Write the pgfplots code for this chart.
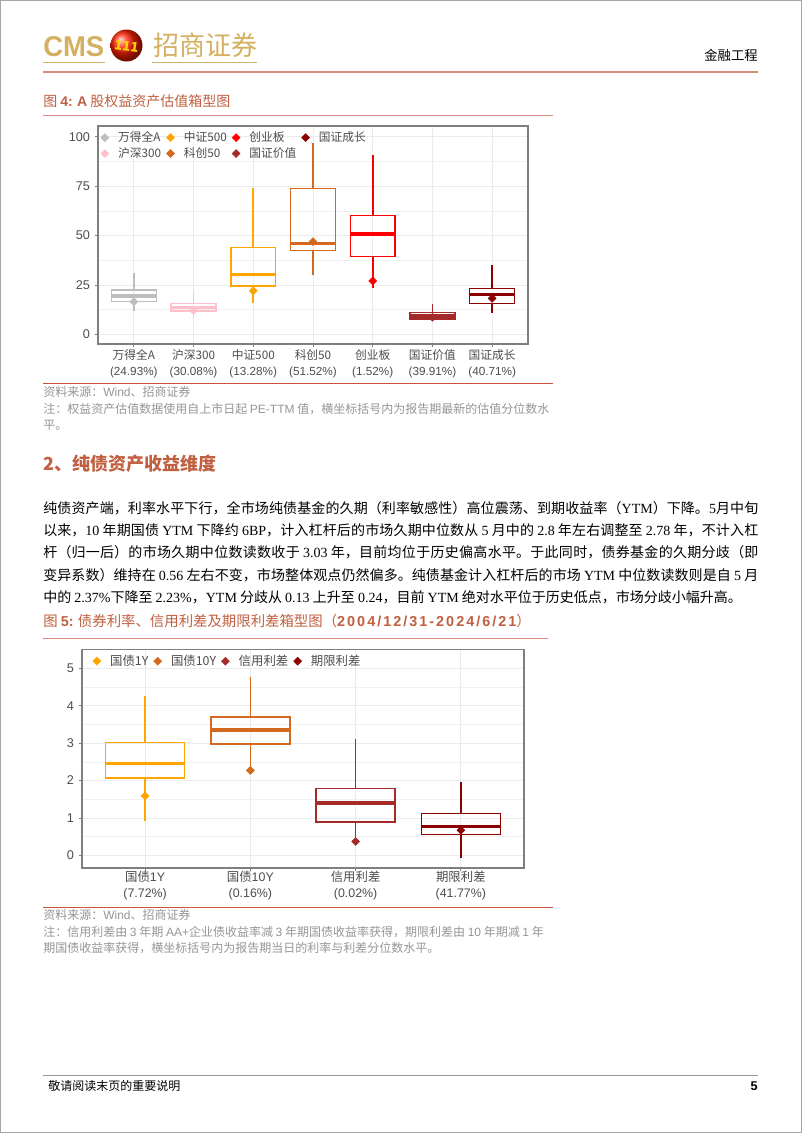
\documentclass[border=0pt]{standalone}
\usepackage{pgfplots}
\pgfplotsset{compat=1.18}
\usepgfplotslibrary{statistics}
\usepackage{fontspec}
\setmainfont{Noto Sans CJK SC}
\newfontfamily\arial{Liberation Sans}
\newfontfamily\arialsp[LetterSpace=14]{Liberation Sans}
\newfontfamily\tnr{Liberation Serif}
\XeTeXlinebreaklocale "zh"
\XeTeXlinebreakskip = 0pt plus 3pt
\definecolor{cmsgold}{RGB}{212,176,96}
\definecolor{ttl}{RGB}{192,96,64}
\definecolor{salmon}{RGB}{214,140,120}
\definecolor{redline}{RGB}{204,80,60}
\definecolor{notegray}{RGB}{150,150,150}
\definecolor{cgray}{RGB}{190,190,190}
\definecolor{cpink}{RGB}{255,192,203}
\definecolor{corange}{RGB}{255,165,0}
\definecolor{cchoc}{RGB}{210,105,30}
\definecolor{cred}{RGB}{255,0,0}
\definecolor{cbrown}{RGB}{165,42,42}
\definecolor{cdark}{RGB}{139,0,0}
\definecolor{axgray}{RGB}{127,127,127}
\definecolor{tickgray}{RGB}{77,77,77}
\definecolor{gridgray}{RGB}{235,235,235}
\pgfplotsset{
  boxplot/every median/.style={line width=2.4pt},
  boxplot/every box/.style={line width=1.05pt},
  boxplot/every whisker/.style={line width=1.2pt},
  bxstyle/.style={forget plot, line width=1.05pt},
  mnstyle/.style={forget plot, only marks, mark=square*, mark size=2.1pt, mark options={rotate=45}},
  lgstyle/.style={only marks, mark=square*, mark size=2.1pt, mark options={rotate=45}},
  mybox/.style={
    scale only axis,
    boxplot/draw direction=y,
    axis line style={axgray, line width=0.8pt},
    tick align=outside, xtick pos=left, ytick pos=left,
    major tick length=2.5pt, minor tick length=0pt,
    tick style={axgray, line width=0.6pt},
    grid=both, major grid style={gridgray, line width=0.6pt},
    minor grid style={gridgray!70, line width=0.4pt},
    minor y tick num=1, minor x tick num=0,
    yticklabel style={font=\arial\fontsize{9.5}{10}\selectfont, text=tickgray},
    legend style={draw=none, fill=none, text=tickgray,
      /tikz/every odd column/.append style={column sep=5pt},
      /tikz/every even column/.append style={column sep=2pt}},
    legend cell align=left,
  }
}
\begin{document}
\begin{tikzpicture}
\begin{scope}[x=0.75pt,y=-0.75pt]
\useasboundingbox (0,0) rectangle (802,1133);
\fill[white] (0,0) rectangle (802,1133);
\draw[gray!70, line width=0.8pt] (0.5,0.5) rectangle (801.5,1132.5);
% header
\node[anchor=south west, inner sep=0] at (43,57) {\resizebox{45.75pt}{15pt}{\color{cmsgold}\arial\bfseries CMS}};
\shade[ball color=red!75!orange] (126.5,45.5) circle (16);
\node[inner sep=0, rotate=-8] at (126.5,46) {\color{yellow!70!orange}\bfseries\itshape\fontsize{10}{10}\selectfont 111};
\node[anchor=south west, inner sep=0] at (153,58) {\resizebox{78pt}{17pt}{\color{cmsgold}招商证券}};
\draw[cmsgold, line width=1.2pt] (43,62.5) -- (105,62.5);
\draw[cmsgold, line width=1.2pt] (152,62.5) -- (257,62.5);
\node[anchor=east, inner sep=0, font=\fontsize{10}{12}\selectfont] at (758,55) {金融工程};
\draw[salmon, line width=0.9pt] (43,72) -- (758,72);
% figure 4 title
\node[anchor=west, inner sep=0, text=ttl, font=\fontsize{10.5}{12}\selectfont] at (43,101) {图 {\arial\bfseries 4:} {\arial\bfseries A} 股权益资产估值箱型图};
\draw[salmon, line width=0.9pt] (43,115.5) -- (553,115.5);
\draw[redline, line width=0.9pt] (43,383.5) -- (553,383.5);
\node[anchor=west, inner sep=0, text=notegray, font=\fontsize{9}{10}\selectfont] at (43,392) {资料来源：{\arial Wind}、招商证券};
\node[anchor=west, inner sep=0, text=notegray, font=\fontsize{9}{10}\selectfont] at (43,409) {注：权益资产估值数据使用自上市日起 {\arial PE-TTM} 值，横坐标括号内为报告期最新的估值分位数水};
\node[anchor=west, inner sep=0, text=notegray, font=\fontsize{9}{10}\selectfont] at (43,425) {平。};
% section heading
\node[anchor=west, inner sep=0, text=ttl, font=\fontsize{13.5}{15}\selectfont\bfseries] at (43,464) {2、纯债资产收益维度};
% paragraph
\node[anchor=base west, inner sep=0, text width=536.25pt, align=justify, font=\fontsize{10.5}{16.8}\selectfont] at (43,513) {\tolerance=10000
纯债资产端，利率水平下行，全市场纯债基金的久期（利率敏感性）高位震荡、到期收益率（{\tnr YTM}）下降。{\tnr 5}月中旬\linebreak
以来，{\tnr 10} 年期国债 {\tnr YTM} 下降约 {\tnr 6BP}，计入杠杆后的市场久期中位数从 {\tnr 5} 月中的 {\tnr 2.8} 年左右调整至 {\tnr 2.78} 年，不计入杠\linebreak
杆（归一后）的市场久期中位数读数收于 {\tnr 3.03} 年，目前均位于历史偏高水平。于此同时，债券基金的久期分歧（即\linebreak
变异系数）维持在 {\tnr 0.56} 左右不变，市场整体观点仍然偏多。纯债基金计入杠杆后的市场 {\tnr YTM} 中位数读数则是自 {\tnr 5} 月\linebreak
中的 {\tnr 2.37\%}下降至 {\tnr 2.23\%}，{\tnr YTM} 分歧从 {\tnr 0.13} 上升至 {\tnr 0.24}，目前 {\tnr YTM} 绝对水平位于历史低点，市场分歧小幅升高。\par};
% figure 5 title
\node[anchor=west, inner sep=0, text=ttl, font=\fontsize{10.8}{12}\selectfont] at (43,621) {图 {\arial\bfseries 5:} 债券利率、信用利差及期限利差箱型图（{\arialsp\bfseries 2004/12/31-2024/6/21}）};
\draw[salmon, line width=0.9pt] (43,638.5) -- (548,638.5);
\draw[redline, line width=0.9pt] (43,907.5) -- (553,907.5);
\node[anchor=west, inner sep=0, text=notegray, font=\fontsize{9}{10}\selectfont] at (43,915) {资料来源：{\arial Wind}、招商证券};
\node[anchor=west, inner sep=0, text=notegray, font=\fontsize{9}{10}\selectfont] at (43,932) {注：信用利差由 {\arial 3} 年期 {\arial AA+}企业债收益率减 {\arial 3} 年期国债收益率获得，期限利差由 {\arial 10} 年期减 {\arial 1} 年};
\node[anchor=west, inner sep=0, text=notegray, font=\fontsize{9}{10}\selectfont] at (43,948) {期国债收益率获得，横坐标括号内为报告期当日的利率与利差分位数水平。};
% footer
\draw[gray!80, line width=0.8pt] (43,1075.5) -- (758,1075.5);
\node[anchor=west, inner sep=0, font=\fontsize{9}{10}\selectfont] at (48,1086) {敬请阅读末页的重要说明};
\node[anchor=east, inner sep=0, font=\fontsize{9.5}{10}\selectfont\arial\bfseries] at (758,1086) {5};
\end{scope}
% chart 1
\begin{axis}[mybox, at={(73.5pt,-258pt)}, anchor=south west, width=322.5pt, height=163.5pt,
  xmin=0.4, xmax=7.6, ymin=-4.9, ymax=105.4,
  ytick={0,25,50,75,100}, yticklabels={0,25,50,75,100},
  xtick={1,2,3,4,5,6,7},
  xticklabel style={font=\fontsize{8.8}{12}\selectfont, align=center, text=tickgray, yshift=2pt},
  xticklabels={{万得全A\\{\arial(24.93\%)}},{沪深300\\{\arial(30.08\%)}},{中证500\\{\arial(13.28\%)}},{科创50\\{\arial(51.52\%)}},{创业板\\{\arial(1.52\%)}},{国证价值\\{\arial(39.91\%)}},{国证成长\\{\arial(40.71\%)}}},
  legend columns=4,
  legend style={font=\fontsize{8.8}{10}\selectfont, at={(-0.003,1.0)}, anchor=north west, row sep=-1pt}]
\addlegendimage{lgstyle, cgray}\addlegendentry{万得全A}
\addlegendimage{lgstyle, corange}\addlegendentry{中证500}
\addlegendimage{lgstyle, cred}\addlegendentry{创业板}
\addlegendimage{lgstyle, cdark}\addlegendentry{国证成长}
\addlegendimage{lgstyle, cpink}\addlegendentry{沪深300}
\addlegendimage{lgstyle, cchoc}\addlegendentry{科创50}
\addlegendimage{lgstyle, cbrown}\addlegendentry{国证价值}
\addplot[bxstyle, cgray, boxplot prepared={draw position=1, lower whisker=12, lower quartile=16.5, median=19.4, upper quartile=22.4, upper whisker=31.2, box extend=0.75, whisker extend=0}] coordinates {};
\addplot[bxstyle, cpink, boxplot prepared={draw position=2, lower whisker=8.1, lower quartile=11.8, median=13.5, upper quartile=15.7, upper whisker=21.6, box extend=0.75, whisker extend=0}] coordinates {};
\addplot[bxstyle, corange, boxplot prepared={draw position=3, lower whisker=16, lower quartile=24.5, median=30.4, upper quartile=44, upper whisker=73.9, box extend=0.75, whisker extend=0}] coordinates {};
\addplot[bxstyle, cchoc, boxplot prepared={draw position=4, lower whisker=30, lower quartile=42.3, median=46, upper quartile=73.7, upper whisker=96.6, box extend=0.75, whisker extend=0}] coordinates {};
\addplot[bxstyle, cred, boxplot prepared={draw position=5, lower whisker=23.3, lower quartile=39.3, median=50.8, upper quartile=60, upper whisker=90.7, box extend=0.75, whisker extend=0}] coordinates {};
\addplot[bxstyle, cbrown, boxplot prepared={draw position=6, lower whisker=6.6, lower quartile=7.8, median=9.3, upper quartile=11, upper whisker=15.3, box extend=0.75, whisker extend=0}] coordinates {};
\addplot[bxstyle, cdark, boxplot prepared={draw position=7, lower whisker=10.6, lower quartile=15.7, median=20.2, upper quartile=23.3, upper whisker=35, box extend=0.75, whisker extend=0}] coordinates {};
\addplot[mnstyle, cgray] coordinates {(1,16.5)};
\addplot[mnstyle, cpink] coordinates {(2,12)};
\addplot[mnstyle, corange] coordinates {(3,22)};
\addplot[mnstyle, cchoc] coordinates {(4,46.9)};
\addplot[mnstyle, cred] coordinates {(5,27)};
\addplot[mnstyle, cbrown] coordinates {(6,8.6)};
\addplot[mnstyle, cdark] coordinates {(7,18.2)};
\end{axis}
% chart 2
\begin{axis}[mybox, at={(61.5pt,-651pt)}, anchor=south west, width=331.5pt, height=164pt,
  xmin=0.4, xmax=4.6, ymin=-0.34, ymax=5.51,
  ytick={0,1,2,3,4,5}, yticklabels={0,1,2,3,4,5},
  xtick={1,2,3,4},
  xticklabel style={font=\fontsize{9.3}{12}\selectfont, align=center, text=tickgray, yshift=3.5pt},
  xticklabels={{国债{\arial 1Y}\\{\arial(7.72\%)}},{国债{\arial 10Y}\\{\arial(0.16\%)}},{信用利差\\{\arial(0.02\%)}},{期限利差\\{\arial(41.77\%)}}},
  legend columns=4,
  legend style={font=\fontsize{9.3}{10}\selectfont, at={(0.015,1.0)}, anchor=north west}]
\addlegendimage{lgstyle, corange}\addlegendentry{国债1Y}
\addlegendimage{lgstyle, cchoc}\addlegendentry{国债10Y}
\addlegendimage{lgstyle, cbrown}\addlegendentry{信用利差}
\addlegendimage{lgstyle, cdark}\addlegendentry{期限利差}
\addplot[bxstyle, corange, boxplot prepared={draw position=1, lower whisker=0.91, lower quartile=2.07, median=2.45, upper quartile=3.01, upper whisker=4.26, box extend=0.75, whisker extend=0}] coordinates {};
\addplot[bxstyle, cchoc, boxplot prepared={draw position=2, lower whisker=2.27, lower quartile=2.98, median=3.35, upper quartile=3.70, upper whisker=4.76, box extend=0.75, whisker extend=0}] coordinates {};
\addplot[bxstyle, cbrown, boxplot prepared={draw position=3, lower whisker=0.37, lower quartile=0.89, median=1.40, upper quartile=1.79, upper whisker=3.10, box extend=0.75, whisker extend=0}] coordinates {};
\addplot[bxstyle, cdark, boxplot prepared={draw position=4, lower whisker=-0.06, lower quartile=0.55, median=0.76, upper quartile=1.12, upper whisker=1.95, box extend=0.75, whisker extend=0}] coordinates {};
\addplot[mnstyle, corange] coordinates {(1,1.59)};
\addplot[mnstyle, cchoc] coordinates {(2,2.27)};
\addplot[mnstyle, cbrown] coordinates {(3,0.37)};
\addplot[mnstyle, cdark] coordinates {(4,0.67)};
\end{axis}
\end{tikzpicture}
\end{document}
